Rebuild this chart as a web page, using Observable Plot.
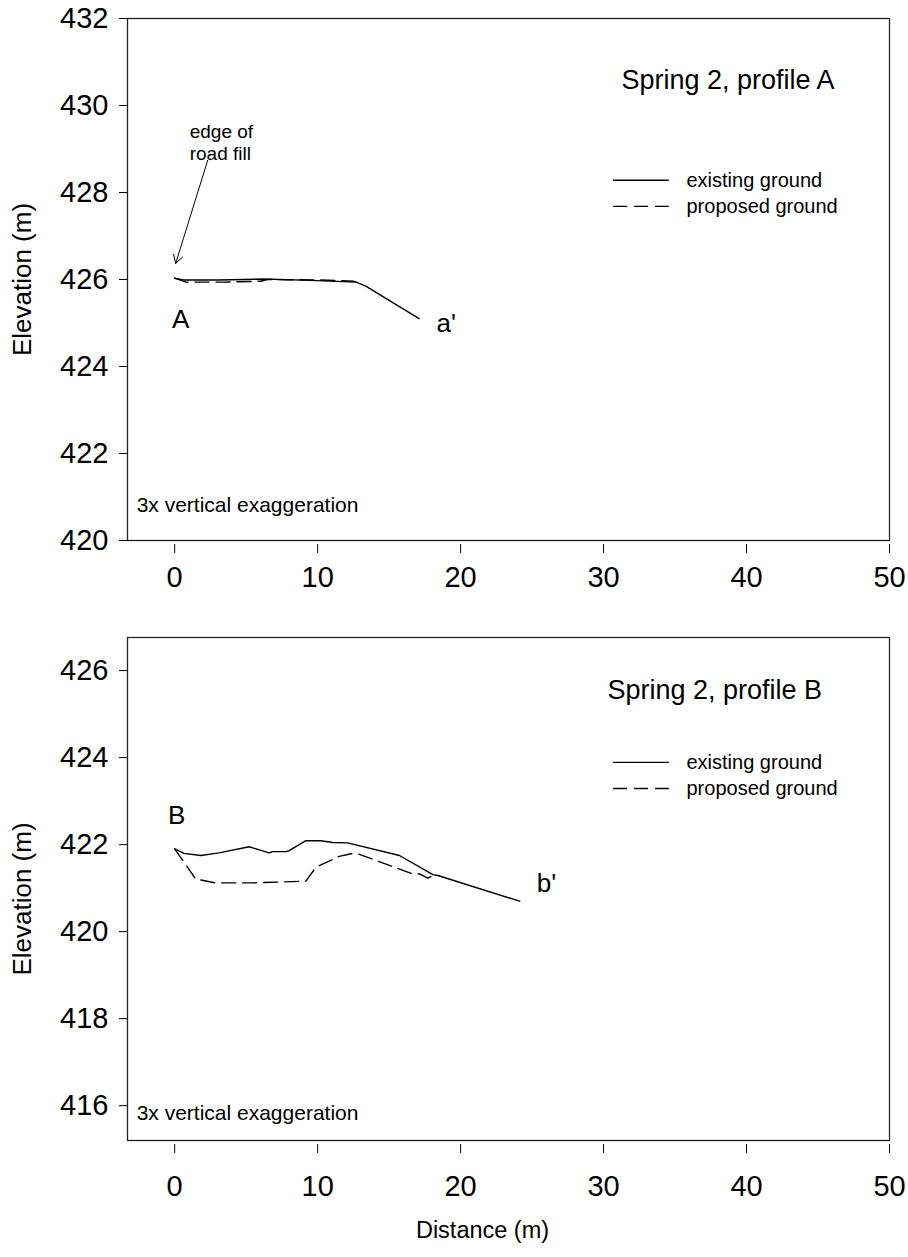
<!DOCTYPE html>
<html>
<head>
<meta charset="utf-8">
<script src="https://cdn.jsdelivr.net/npm/d3@7"></script>
<script src="https://cdn.jsdelivr.net/npm/@observablehq/plot@0.6"></script>
<style>
  html, body { margin: 0; padding: 0; background: #fff; }
  #chart svg { display: block; }
</style>
</head>
<body>
<div id="chart"></div>
<script>
// ---------- data ----------
const xTicks = [0, 10, 20, 30, 40, 50];
const yTicksA = [420, 422, 424, 426, 428, 430, 432];
const yTicksB = [416, 418, 420, 422, 424, 426];

// Profile A
const existingA = [
  [0, 426.03], [0.6, 425.99], [3.0, 425.99], [6.2, 426.01], [9.5, 425.98], [12.7, 425.94],
  [13.4, 425.84], [15.2, 425.48], [17.1, 425.1]
];
const proposedA = [
  [0, 426.03], [0.8, 425.94], [3.5, 425.94], [6.0, 425.96], [6.5, 426.0], [10.0, 425.99],
  [12.5, 425.96], [12.7, 425.94]
];

// Profile B
const existingB = [
  [0, 421.9], [0.65, 421.8], [1.82, 421.75], [3.1, 421.81], [5.21, 421.95], [6.61, 421.81],
  [6.85, 421.84], [7.78, 421.84], [8.01, 421.86], [9.18, 422.09], [10.23, 422.09],
  [11.05, 422.05], [12.1, 422.04], [15.72, 421.75], [18.06, 421.31], [18.41, 421.29],
  [24.13, 420.7]
];
const proposedB = [
  [0, 421.9], [1.47, 421.21], [2.87, 421.12], [5.5, 421.12], [9.18, 421.16], [9.88, 421.48],
  [11.51, 421.73], [12.33, 421.79], [12.8, 421.79], [16.54, 421.34], [17.12, 421.33],
  [17.71, 421.23], [18.06, 421.29]
];

// text labels and annotation anchors (data units)
const panelA = {
  title: "Spring 2, profile A", titleAt: [31.25, 430.57],
  legendX: [30.7, 34.6], legendTextX: 35.8, legendY: [428.28, 427.68],
  start: "A", startAt: [0.42, 425.08], end: "a'", endAt: [19.0, 424.99],
  noteAt: [-2.66, 420.8],
  yDomain: [420, 432]
};
const panelB = {
  title: "Spring 2, profile B", titleAt: [30.27, 425.54],
  legendX: [30.7, 34.6], legendTextX: 35.8, legendY: [423.89, 423.29],
  start: "B", startAt: [0.14, 422.67], end: "b'", endAt: [26.0, 421.1],
  noteAt: [-2.66, 415.82],
  yDomain: [415.2, 426.76]
};
const legendLabels = ["existing ground", "proposed ground"];
const note = "3x vertical exaggeration";
const roadFill = {text: "edge of\nroad fill", at: [1.05, 429.17], arrowFrom: [2.31, 428.74], arrowTo: [0.07, 426.37]};

const FONT = "'Liberation Sans', Arial, Helvetica, sans-serif";
const DASH = "14,7";

function panel(p, opts) {
  const marks = [
    Plot.frame({stroke: "#222", strokeWidth: 1.3}),
    Plot.axisY({ticks: opts.yTicks, tickSize: 8, tickPadding: 11, fontSize: 29, label: null}),
    Plot.axisX({ticks: xTicks, tickSize: 9, tickPadding: opts.xPad, dy: 4, fontSize: 29, label: null}),
    Plot.line(opts.existing, {x: d => d[0], y: d => d[1], stroke: "black", strokeWidth: 1.4}),
    Plot.line(opts.proposed, {x: d => d[0], y: d => d[1], stroke: "black", strokeWidth: 1.4, strokeDasharray: DASH}),
    Plot.text([p.title], {x: p.titleAt[0], y: p.titleAt[1], text: d => d, textAnchor: "start", fontSize: 27, fill: "black"}),
    Plot.ruleY([p.legendY[0]], {x1: p.legendX[0], x2: p.legendX[1], y: d => d, stroke: "black", strokeWidth: 1.4}),
    Plot.ruleY([p.legendY[1]], {x1: p.legendX[0], x2: p.legendX[1], y: d => d, stroke: "black", strokeWidth: 1.4, strokeDasharray: DASH}),
    Plot.text(legendLabels, {x: p.legendTextX, y: (d, i) => p.legendY[i], text: d => d, textAnchor: "start", fontSize: 20, fill: "black"}),
    Plot.text([p.start], {x: p.startAt[0], y: p.startAt[1], text: d => d, fontSize: 26, fill: "black"}),
    Plot.text([p.end], {x: p.endAt[0], y: p.endAt[1], text: d => d, fontSize: 26, fill: "black"}),
    Plot.text([note], {x: p.noteAt[0], y: p.noteAt[1], text: d => d, textAnchor: "start", fontSize: 21, fill: "black"}),
    Plot.text(["Elevation (m)"], {frameAnchor: "left", text: d => d, rotate: -90, textAnchor: "middle", lineAnchor: "middle", dx: -105, dy: opts.ylabelDy, fontSize: 26, fill: "black"})
  ];
  if (opts.extra) marks.push(...opts.extra);
  return Plot.plot({
    width: 908,
    height: opts.height,
    marginTop: opts.marginTop,
    marginBottom: opts.marginBottom,
    marginLeft: 127,
    marginRight: 19,
    style: {fontFamily: FONT, fontSize: "22px", color: "black", background: "white"},
    x: {domain: [-3.3, 50], axis: null},
    y: {domain: p.yDomain, axis: null},
    marks
  });
}

const chartTop = panel(panelA, {
  height: 600, marginTop: 18, marginBottom: 60, yTicks: yTicksA, ylabelDy: 0, xPad: 13,
  existing: existingA, proposed: proposedA,
  extra: [
    Plot.text([roadFill.text], {x: roadFill.at[0], y: roadFill.at[1], text: d => d, textAnchor: "start", fontSize: 19, lineHeight: 1.15, fill: "black"}),
    Plot.arrow([roadFill], {x1: d => d.arrowFrom[0], y1: d => d.arrowFrom[1], x2: d => d.arrowTo[0], y2: d => d.arrowTo[1], stroke: "black", strokeWidth: 1, headLength: 14})
  ]
});

const chartBottom = panel(panelB, {
  height: 657, marginTop: 37, marginBottom: 117, yTicks: yTicksB, ylabelDy: 10, xPad: 22,
  existing: existingB, proposed: proposedB,
  extra: [
    Plot.text(["Distance (m)"], {frameAnchor: "bottom", text: d => d, textAnchor: "middle", lineAnchor: "middle", dx: -26, dy: 90, fontSize: 23.5, fill: "black"})
  ]
});

const el = document.getElementById("chart");
el.appendChild(chartTop);
el.appendChild(chartBottom);
</script>
</body>
</html>
